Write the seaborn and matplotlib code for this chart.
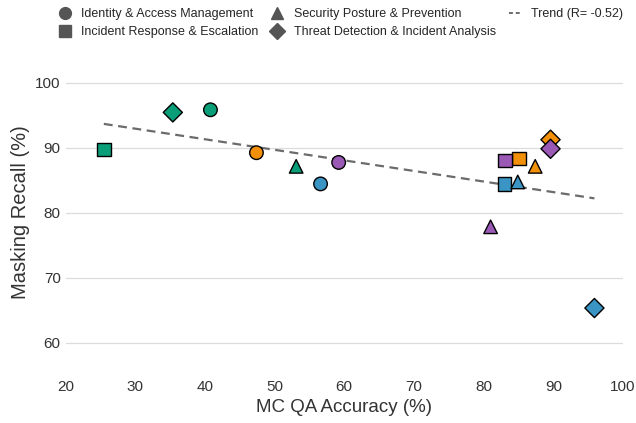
import numpy as np
import pandas as pd
import matplotlib
matplotlib.use("Agg")
import matplotlib.pyplot as plt
from matplotlib.lines import Line2D
import seaborn as sns

DOMAINS = [
    "Identity & Access Management",
    "Incident Response & Escalation",
    "Security Posture & Prevention",
    "Threat Detection & Incident Analysis",
]
MARKERS = {DOMAINS[0]: "o", DOMAINS[1]: "s", DOMAINS[2]: "^", DOMAINS[3]: "D"}
GROUPS = ["g1", "g2", "g3", "g4"]
PALETTE = {"g1": "#0A9E78", "g2": "#F2900A", "g3": "#3A94C4", "g4": "#9B59B6"}

# one value per (domain, group), groups in GROUPS order
mcqa = {
    DOMAINS[0]: [40.8, 47.4, 56.6, 59.2],
    DOMAINS[1]: [25.5, 85.1, 83.0, 83.1],
    DOMAINS[2]: [53.1, 87.4, 84.9, 81.0],
    DOMAINS[3]: [35.4, 89.6, 95.9, 89.6],
}
recall = {
    DOMAINS[0]: [95.8, 89.2, 84.4, 87.7],
    DOMAINS[1]: [89.7, 88.3, 84.4, 88.0],
    DOMAINS[2]: [87.1, 87.1, 84.7, 77.8],
    DOMAINS[3]: [95.4, 91.2, 65.3, 89.8],
}

rows = []
for d in DOMAINS:
    for g, x, y in zip(GROUPS, mcqa[d], recall[d]):
        rows.append({"domain": d, "group": g, "acc": x, "recall": y})
df = pd.DataFrame(rows)

sns.set_style("whitegrid")
plt.rcParams["font.family"] = ["Liberation Sans", "DejaVu Sans"]

fig = plt.figure(figsize=(6.36, 4.23), dpi=100)
ax = fig.add_axes([65.5 / 636, 48 / 423, 557.5 / 636, 325 / 423])

sns.scatterplot(data=df, x="acc", y="recall", hue="group", style="domain",
                palette=PALETTE, markers=MARKERS, s=95, edgecolor="black",
                linewidth=1.0, legend=False, ax=ax, zorder=3)

# linear trend over all points
slope, intercept = np.polyfit(df["acc"], df["recall"], 1)
r = np.corrcoef(df["acc"], df["recall"])[0, 1]
xs = np.array([df["acc"].min(), df["acc"].max()])
ax.plot(xs, slope * xs + intercept, ls=(0, (4, 2.5)), color="#6b6b6b", lw=1.6, zorder=2)

ax.set_xlim(20, 100)
ax.set_ylim(55, 105)
ax.set_xticks(range(20, 101, 10))
ax.set_yticks(range(60, 101, 10))
ax.xaxis.grid(False)
ax.yaxis.grid(True, color="#dcdcdc", lw=0.9)
sns.despine(ax=ax, left=True, bottom=True)
ax.tick_params(axis="both", length=0, labelsize=11, labelcolor="#333333")
ax.set_xlabel("MC QA Accuracy (%)", fontsize=13.5, color="#333333")
ax.set_ylabel("Masking Recall (%)", fontsize=14.5, color="#333333")

handles = [Line2D([], [], ls="", marker=MARKERS[d], color="#555555", markersize=8.5)
           for d in DOMAINS]
handles.append(Line2D([], [], ls=(0, (2, 1.5)), color="#6b6b6b", lw=1.4))
labels = DOMAINS + ["Trend (R= {:.2f})".format(r)]
fig.legend(handles, labels, ncol=3, loc="upper left", bbox_to_anchor=(59 / 636, 1 - 8 / 423),
           frameon=False, fontsize=9, borderpad=0, borderaxespad=0,
           handlelength=0.9, handletextpad=0.9, columnspacing=1.0, labelspacing=0.5)

fig.savefig("out.png", dpi=100)
